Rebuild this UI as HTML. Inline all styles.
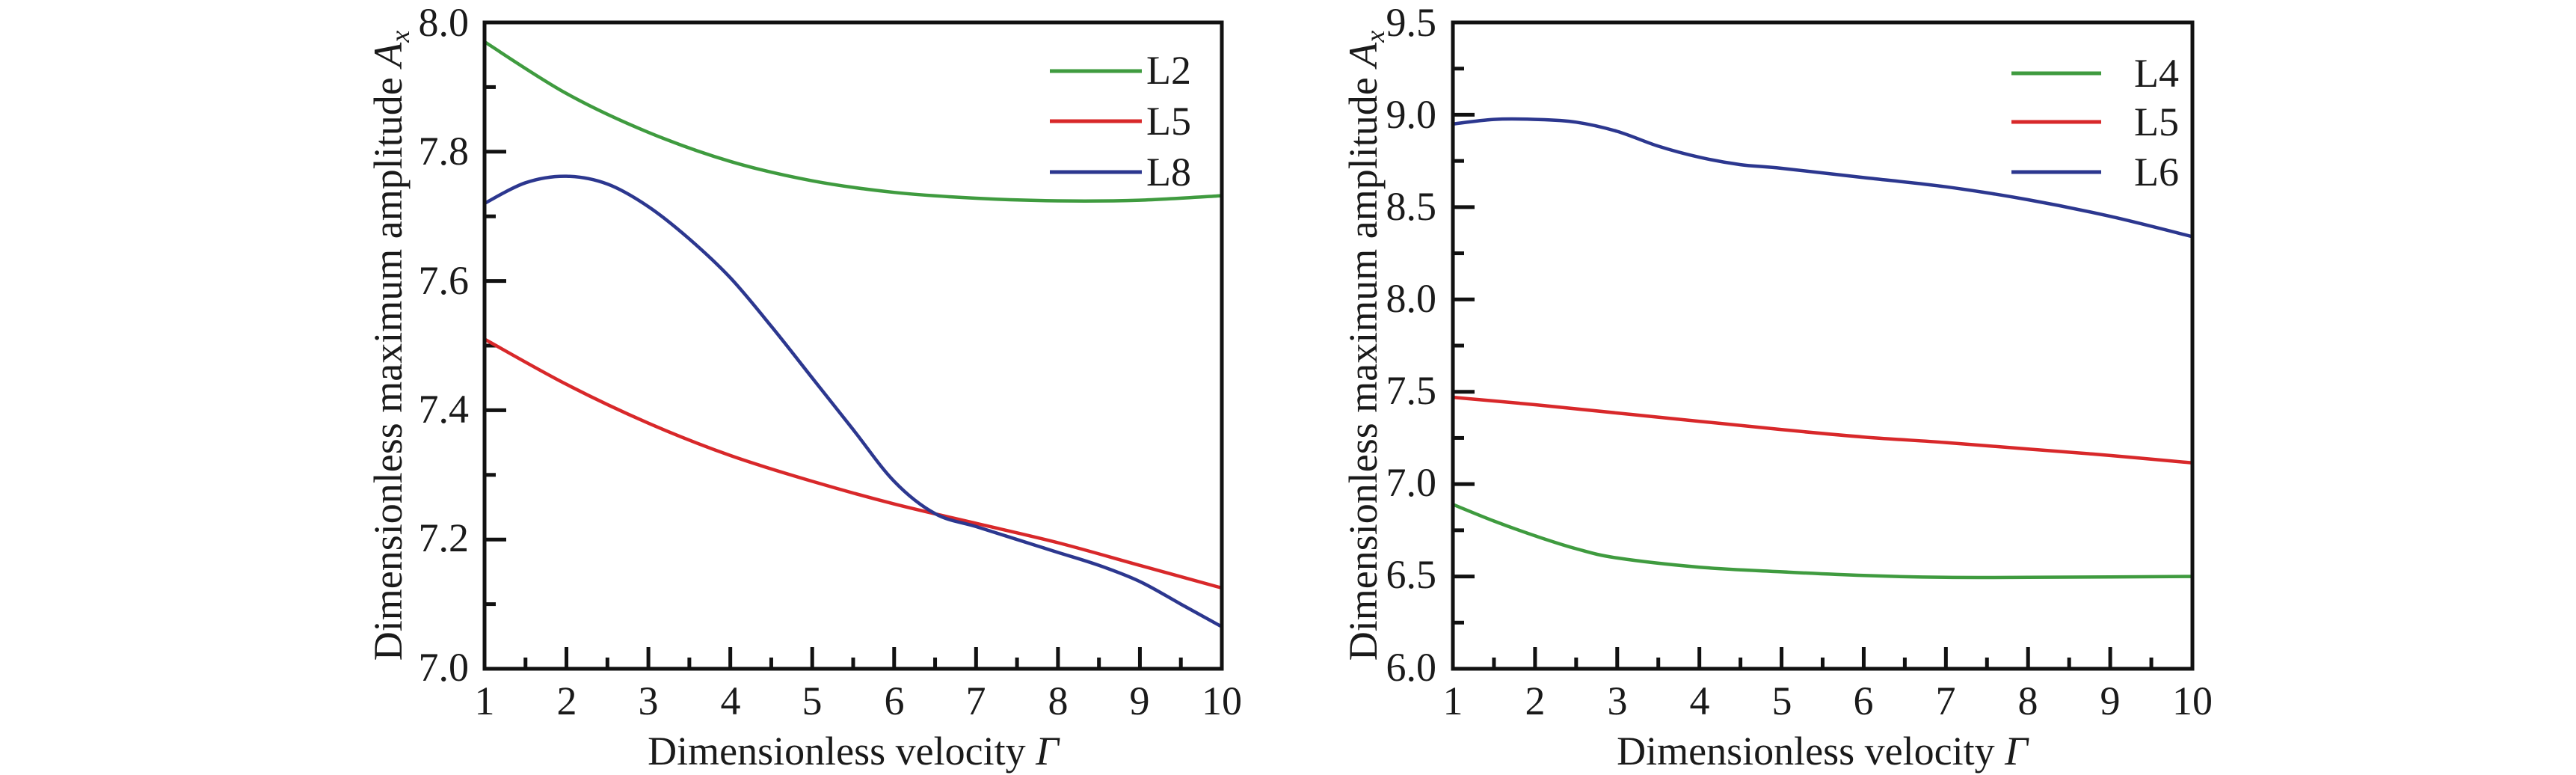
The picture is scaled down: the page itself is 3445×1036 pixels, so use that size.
<!DOCTYPE html>
<html><head><meta charset="utf-8"><style>
html,body{margin:0;padding:0;background:#fff;}
svg{display:block;}
text{font-family:"Liberation Serif",serif;fill:#1a1a1a;}
</style></head><body>
<svg id="s" width="3445" height="1036" viewBox="0 0 3445 1036" xmlns="http://www.w3.org/2000/svg">
<g id="g1"></g>
<!-- Left plot labels -->
<g font-size="54" text-anchor="end">
<text x="627" y="48">8.0</text>
<text x="627" y="220">7.8</text>
<text x="627" y="393">7.6</text>
<text x="627" y="565">7.4</text>
<text x="627" y="737">7.2</text>
<text x="627" y="910">7.0</text>
</g>
<g font-size="54" text-anchor="middle">
<text x="648" y="955">1</text><text x="758" y="955">2</text><text x="867" y="955">3</text>
<text x="977" y="955">4</text><text x="1086" y="955">5</text><text x="1196" y="955">6</text>
<text x="1305" y="955">7</text><text x="1415" y="955">8</text><text x="1524" y="955">9</text>
<text x="1634" y="955">10</text>
<text x="1141" y="1022">Dimensionless velocity <tspan font-style="italic">Γ</tspan></text>
<text transform="translate(537,462) rotate(-90)">Dimensionless maximum amplitude <tspan font-style="italic">A</tspan><tspan font-style="italic" font-size="36" dy="10">x</tspan></text>
</g>
<g font-size="54">
<text x="1533" y="112">L2</text>
<text x="1533" y="180">L5</text>
<text x="1533" y="248">L8</text>
</g>
<!-- Right plot labels -->
<g font-size="54" text-anchor="end">
<text x="1921" y="48">9.5</text>
<text x="1921" y="171">9.0</text>
<text x="1921" y="294">8.5</text>
<text x="1921" y="417">8.0</text>
<text x="1921" y="540">7.5</text>
<text x="1921" y="663">7.0</text>
<text x="1921" y="786">6.5</text>
<text x="1921" y="910">6.0</text>
</g>
<g font-size="54" text-anchor="middle">
<text x="1943" y="955">1</text><text x="2053" y="955">2</text><text x="2163" y="955">3</text>
<text x="2273" y="955">4</text><text x="2383" y="955">5</text><text x="2492" y="955">6</text>
<text x="2602" y="955">7</text><text x="2712" y="955">8</text><text x="2822" y="955">9</text>
<text x="2932" y="955">10</text>
<text x="2437" y="1022">Dimensionless velocity <tspan font-style="italic">Γ</tspan></text>
<text transform="translate(1841,462) rotate(-90)">Dimensionless maximum amplitude <tspan font-style="italic">A</tspan><tspan font-style="italic" font-size="36" dy="10">x</tspan></text>
</g>
<g font-size="54">
<text x="2854" y="116">L4</text>
<text x="2854" y="181">L5</text>
<text x="2854" y="248">L6</text>
</g>
</svg>
<script>
(function(){
var NS="http://www.w3.org/2000/svg",g=document.getElementById('g1');
function el(t,a){var e=document.createElementNS(NS,t);for(var k in a)e.setAttribute(k,a[k]);g.appendChild(e);return e;}
function smooth(pts){var d="M"+pts[0][0].toFixed(1)+","+pts[0][1].toFixed(1);
 for(var i=0;i<pts.length-1;i++){var p0=pts[i-1]||pts[i],p1=pts[i],p2=pts[i+1],p3=pts[i+2]||p2;
  var c1=[p1[0]+(p2[0]-p0[0])/6,p1[1]+(p2[1]-p0[1])/6],c2=[p2[0]-(p3[0]-p1[0])/6,p2[1]-(p3[1]-p1[1])/6];
  d+="C"+c1[0].toFixed(1)+","+c1[1].toFixed(1)+" "+c2[0].toFixed(1)+","+c2[1].toFixed(1)+" "+p2[0].toFixed(1)+","+p2[1].toFixed(1);}
 return d;}
function plot(x0,x1,y0,y1,ymin,ymax,ymaj,ymin2,series,legend){
 var W=x1-x0,H=y1-y0;
 function X(v){return x0+(v-1)*W/9;} function Y(v){return y1-(v-ymin)*H/(ymax-ymin);}
 var n=Math.round((ymax-ymin)/ymin2);
 for(var i=1;i<n;i++){var v=ymin+i*ymin2,maj=(i%Math.round(ymaj/ymin2)==0);
  el('line',{x1:x0,x2:x0+(maj?29:15),y1:Y(v),y2:Y(v),stroke:'#111','stroke-width':5});}
 for(var i=1;i<18;i++){var v=1+i*0.5,maj=(i%2==0);
  el('line',{x1:X(v),x2:X(v),y1:y1,y2:y1-(maj?29:15),stroke:'#111','stroke-width':5});}
 series.forEach(function(s){var pts=s.d.map(function(p){return [X(p[0]),Y(p[1])];});
  el('path',{d:smooth(pts),fill:'none',stroke:s.c,'stroke-width':4.5});});
 legend.forEach(function(l){el('line',{x1:l[0],x2:l[1],y1:l[2],y2:l[2],stroke:l[3],'stroke-width':5});});
 el('rect',{x:x0,y:y0,width:W,height:H,fill:'none',stroke:'#111','stroke-width':5});
}
var G='#3f9b3f',R='#d8282a',B='#2c378f';
plot(648,1634,30,894,7,8,0.2,0.1,[
 {c:G,d:[[1,7.97],[2,7.89],[3,7.83],[4,7.785],[5,7.755],[6,7.737],[7,7.728],[8,7.724],[9,7.725],[10,7.732]]},
 {c:R,d:[[1,7.51],[2,7.44],[3,7.38],[4,7.33],[5,7.29],[6,7.255],[7,7.225],[8,7.195],[9,7.16],[10,7.125]]},
 {c:B,d:[[1,7.72],[1.5,7.752],[2,7.762],[2.5,7.75],[3,7.715],[3.5,7.665],[4,7.605],[4.5,7.53],[5,7.45],[5.5,7.37],[6,7.29],[6.5,7.24],[7,7.22],[7.5,7.2],[8,7.18],[8.5,7.16],[9,7.135],[9.5,7.10],[10,7.065]]}
],[[1404,1527,95,G],[1404,1527,162,R],[1404,1527,230,B]]);
plot(1943,2932,30,894,6,9.5,0.5,0.25,[
 {c:G,d:[[1,6.89],[1.5,6.80],[2,6.72],[2.5,6.65],[3,6.60],[4,6.55],[5,6.525],[6,6.505],[7,6.495],[8,6.495],[9,6.497],[10,6.50]]},
 {c:R,d:[[1,7.47],[2,7.43],[3,7.385],[4,7.34],[5,7.295],[6,7.255],[7,7.225],[8,7.19],[9,7.155],[10,7.115]]},
 {c:B,d:[[1,8.95],[1.5,8.975],[2,8.975],[2.5,8.96],[3,8.91],[3.5,8.83],[4,8.77],[4.5,8.73],[5,8.71],[6,8.66],[7,8.61],[8,8.54],[9,8.45],[10,8.34]]}
],[[2690,2810,98,G],[2690,2810,163,R],[2690,2810,230,B]]);
})();
</script>
</body></html>
